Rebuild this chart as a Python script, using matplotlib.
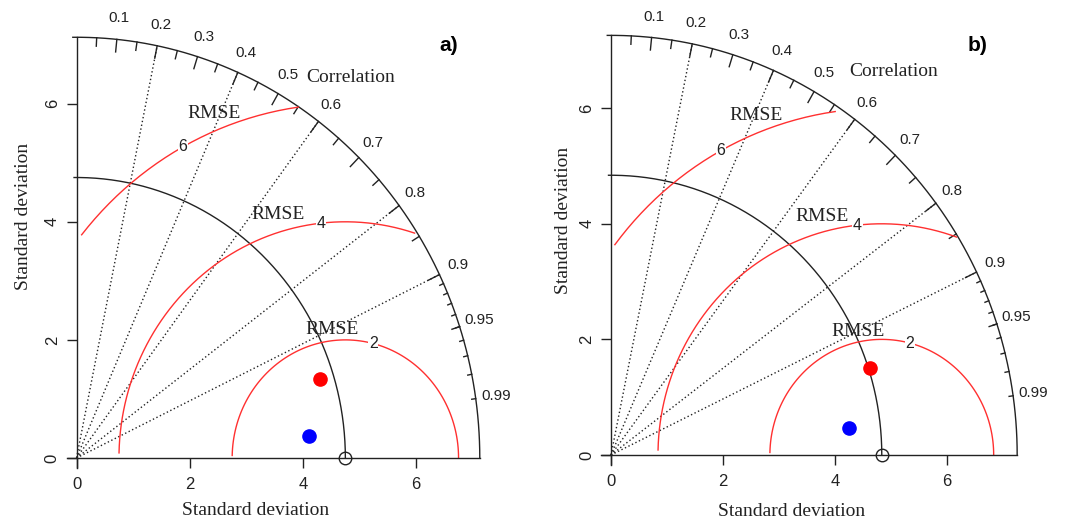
import numpy as np
import matplotlib
matplotlib.use('Agg')
import matplotlib.pyplot as plt

plt.rcParams['font.family'] = ['Liberation Sans', 'DejaVu Sans']

# reference std and the two model points (red, blue) for each panel
panels = ['a)', 'b)']
ref_sd = [4.75, 4.84]
model_sd = [[4.50, 4.13], [4.87, 4.28]]
model_cor = [[0.955, 0.996], [0.951, 0.994]]
model_col = ['red', 'blue']

rmse_levels = [2, 4, 6]
corr_lines = [0.2, 0.4, 0.6, 0.8, 0.9]
corr_labels = [0.1, 0.2, 0.3, 0.4, 0.5, 0.6, 0.7, 0.8, 0.9, 0.95, 0.99]
sd_ticks = [0, 2, 4, 6]

# where the "RMSE" words sit, per panel
rmse_word_x = [[4.51, 3.56, 2.43], [4.41, 3.77, 2.59]]
rmse_word_y = [[2.17, 4.12, 5.83], [2.13, 4.13, 5.87]]
corr_word_xy = [(4.85, 6.45), (5.06, 6.63)]
panel_tag_xy = [(6.58, 6.98), (6.56, 7.09)]

# axes limits chosen so both panels line up like the original
xlims = [(-1.352, 8.189), (-1.269, 8.365)]
ylims = [(-1.05, 7.756), (-1.125, 7.872)]
xlab_pos = [(0.474, 0.035), (0.466, 0.032)]
ylab_pos = [(0.059, 0.583), (0.059, 0.577)]

SERIF = 'Liberation Serif'
LC = '#222222'


def taylor(ax, k):
    sr = ref_sd[k]
    maxsd = 1.5 * sr
    ax.set_xlim(*xlims[k])
    ax.set_ylim(*ylims[k])

    # axes
    for s in ['top', 'right']:
        ax.spines[s].set_visible(False)
    for s in ['left', 'bottom']:
        ax.spines[s].set_position(('data', 0))
        ax.spines[s].set_bounds(-0.17, maxsd)
        ax.spines[s].set_linewidth(1.0)
        ax.spines[s].set_color(LC)
    ax.set_xticks(sd_ticks)
    ax.set_yticks(sd_ticks)
    ax.tick_params(direction='out', length=7, width=1.0, colors=LC, labelsize=12)
    ax.tick_params(axis='x', pad=7)
    ax.tick_params(axis='y', pad=5, labelrotation=90)
    for t in ax.get_yticklabels():
        t.set_va('center')

    # outer arc and reference arc
    th = np.arange(0, np.pi / 2 + 0.01, 0.01)
    ax.plot(np.cos(th) * maxsd, np.sin(th) * maxsd, color=LC, lw=1.0)
    ax.plot(np.cos(th) * sr, np.sin(th) * sr, color=LC, lw=1.0)

    # correlation lines
    for c in corr_lines:
        a = np.arccos(c)
        ax.plot([0, maxsd * np.cos(a)], [0, maxsd * np.sin(a)], color=LC,
                lw=1.0, linestyle=(0, (1, 1.8)))

    # correlation ticks
    big = np.arccos(np.arange(0.1, 0.91, 0.1))
    med = np.arccos(np.arange(0.05, 0.96, 0.1))
    sml = np.arccos(np.arange(0.91, 0.995, 0.01))
    for angs, f in [(big, 0.97), (med, 0.98), (sml, 0.99)]:
        for a in angs:
            ax.plot([np.cos(a) * maxsd, np.cos(a) * f * maxsd],
                    [np.sin(a) * maxsd, np.sin(a) * f * maxsd], color=LC, lw=1.0)
    for c in corr_labels:
        a = np.arccos(c)
        ax.text(np.cos(a) * 1.05 * maxsd, np.sin(a) * 1.05 * maxsd, '%g' % c,
                ha='center', va='center', fontsize=11, color=LC)
    ax.text(corr_word_xy[k][0], corr_word_xy[k][1], 'Correlation', family=SERIF,
            fontsize=14, ha='center', va='center', color=LC)

    # RMSE arcs around the reference point
    th = np.arange(0, np.pi, 0.03)
    labelpos = [44, 56, 69]
    for i, g in enumerate(rmse_levels):
        xc = np.cos(th) * g + sr
        yc = np.sin(th) * g
        m = (xc >= 0) & (xc * xc + yc * yc <= maxsd * maxsd)
        ax.plot(xc[m], yc[m], color='#ff3030', lw=1.0)
        j = labelpos[i]
        ax.text(xc[j], yc[j], str(g), ha='center', va='center', fontsize=11.5,
                color=LC, bbox=dict(facecolor='white', edgecolor='none', pad=0.5))
        ax.text(rmse_word_x[k][i], rmse_word_y[k][i], 'RMSE', family=SERIF,
                fontsize=14, ha='center', va='center', color=LC)

    # reference point and models
    ax.plot([sr], [0], 'o', mfc='none', mec=LC, ms=9, mew=1.0, clip_on=False, zorder=5)
    for sd, c, col in zip(model_sd[k], model_cor[k], model_col):
        ax.plot([sd * c], [sd * np.sin(np.arccos(c))], 'o', color=col, ms=9.5, zorder=6)

    ax.set_xlabel('Standard deviation', family=SERIF, fontsize=14, color=LC)
    ax.xaxis.set_label_coords(*xlab_pos[k])
    ax.set_ylabel('Standard deviation', family=SERIF, fontsize=14, color=LC)
    ax.yaxis.set_label_coords(*ylab_pos[k])

    ax.text(panel_tag_xy[k][0], panel_tag_xy[k][1], panels[k], fontsize=15,
            fontweight='bold', ha='center', va='center')


def main():
    fig = plt.figure(figsize=(10.79, 5.2), dpi=100)
    ax1 = fig.add_axes([0, 0, 540 / 1079, 1])
    ax2 = fig.add_axes([540 / 1079, 0, 539 / 1079, 1])
    for ax in (ax1, ax2):
        ax.patch.set_alpha(0)
    taylor(ax1, 0)
    taylor(ax2, 1)
    fig.savefig('out.png', dpi=100)


if __name__ == '__main__':
    main()
